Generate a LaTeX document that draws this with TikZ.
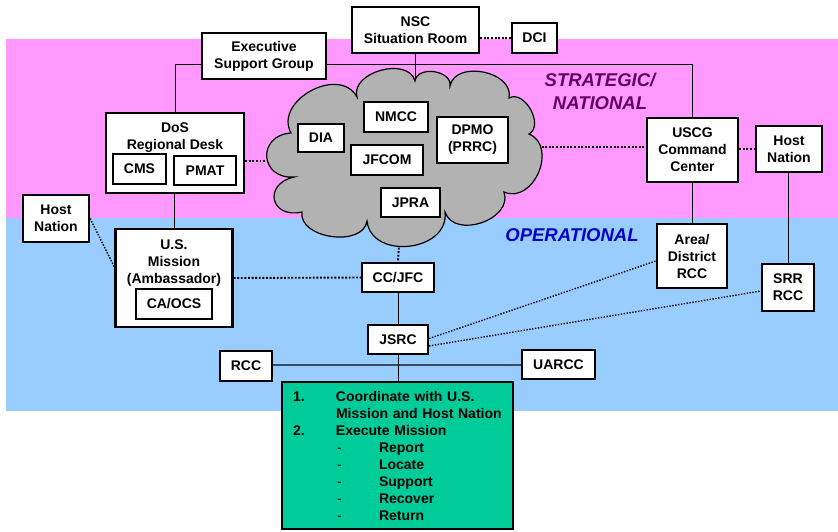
\documentclass[tikz,border=0pt]{standalone}
\usepackage{fontspec}
\setmainfont{Liberation Sans}
\usetikzlibrary{positioning, calc}
\definecolor{stratpink}{HTML}{FF99FF}
\definecolor{opblue}{HTML}{99CCFF}
\definecolor{taskgreen}{HTML}{00CC99}
\definecolor{cloudgray}{HTML}{B2B2B2}
\definecolor{stratpurple}{HTML}{660066}
\definecolor{opdarkblue}{HTML}{0000CC}
\definecolor{slateline}{HTML}{3C4A66}

\begin{document}
\begin{tikzpicture}[x=1pt,y=-1pt,draw=black!100]
	\tikzstyle{org-node}=[draw=black,line width=2.2pt,fill=white,inner sep=0pt,align=center,font=\fontsize{14}{17}\selectfont\bfseries]
	\tikzstyle{txt-node}=[inner sep=0pt,align=center,font=\fontsize{14}{17}\selectfont\bfseries]
	\tikzstyle{lvl-lbl}=[inner sep=0pt,align=center,font=\fontsize{18.5}{23}\selectfont\bfseries\itshape]
	\tikzstyle{solid-link}=[line width=0.9pt]
	\tikzstyle{dot-link}=[line width=1.9pt,dash pattern=on 1.9pt off 1.7pt]
	\tikzstyle{dot-thin}=[line width=1.4pt,dash pattern=on 1.4pt off 1.5pt]
	\useasboundingbox (0,0) rectangle (838,531);

	% levels
	\fill[stratpink] (6,39) rectangle (838,218);
	\fill[opblue] (6,218) rectangle (838,411);
	\node[lvl-lbl,text=stratpurple] (lbl-strat) at (600,91) {STRATEGIC/\\NATIONAL};
	\node[lvl-lbl,text=opdarkblue] (lbl-op) at (572,235) {OPERATIONAL};

	% cloud outline points
	\coordinate (cA) at (291,133);
	\coordinate (cB) at (357,97);
	\coordinate (cC) at (415,81);
	\coordinate (cD) at (450,86);
	\coordinate (cE) at (509,98);
	\coordinate (cF) at (529,134);
	\coordinate (cG) at (504,192);
	\coordinate (cH) at (445,212);
	\coordinate (cI) at (367,221);
	\coordinate (cK) at (302,212);
	\coordinate (cJ) at (294,177);
	\coordinate (cW) at (267,161);
	\coordinate (cR) at (538,147);
	\coordinate (cS) at (399,244);

	% strategic nodes
	\node[org-node,minimum width=127pt,minimum height=46pt] (nsc) at (415.5,30) {NSC\\Situation Room};
	\node[org-node,minimum width=45pt,minimum height=30pt] (dci) at (534.5,38) {DCI};
	\node[org-node,minimum width=124pt,minimum height=46pt] (esg) at (264,56) {Executive\\Support Group};
	\node[org-node,minimum width=138pt,minimum height=80pt] (dos) at (175,153) {};
	\node[txt-node] (dos-txt) at (175,138) {DoS\\Regional Desk};
	\node[org-node,minimum width=53pt,minimum height=30pt] (cms) at (139.5,169) {CMS};
	\node[org-node,minimum width=62pt,minimum height=29pt] (pmat) at (205,170.5) {PMAT};
	\node[org-node,minimum width=91pt,minimum height=64pt] (uscg) at (692.5,150) {USCG\\Command\\Center};
	\node[org-node,minimum width=66pt,minimum height=46pt] (hnr) at (789,149) {Host\\Nation};
	\node[org-node,minimum width=66pt,minimum height=47pt] (hnl) at (56,218.5) {Host\\Nation};

	% operational nodes
	\node[org-node,minimum width=117pt,minimum height=98pt] (usm) at (174,278) {};
	\node[txt-node] (usm-txt) at (174,263) {U.S.\\Mission\\(Ambassador)};
	\node[org-node,minimum width=76pt,minimum height=30pt] (caocs) at (174,304) {CA/OCS};
	\node[org-node,minimum width=72pt,minimum height=29pt] (ccjfc) at (398,277.5) {CC/JFC};
	\node[org-node,minimum width=60pt,minimum height=29pt] (jsrc) at (398,339.5) {JSRC};
	\node[org-node,minimum width=52pt,minimum height=30pt] (rcc) at (246,366) {RCC};
	\node[org-node,minimum width=73pt,minimum height=29pt] (uarcc) at (558.5,364.5) {UARCC};
	\node[org-node,minimum width=70pt,minimum height=64pt] (area) at (692,256) {Area/\\District\\RCC};
	\node[org-node,minimum width=52pt,minimum height=47pt] (srr) at (788,287.5) {SRR\\RCC};

	% links
	\draw[solid-link] ([yshift=-8pt]esg.west) -| (dos.north);
	\draw[solid-link] ([yshift=-8pt]esg.east) -| (uscg.north);
	\draw[solid-link] (nsc.south) -- (nsc.south |- cC);
	\draw[solid-link] (usm.north |- dos.south) -- (usm.north);
	\draw[solid-link] (uscg.south -| area.north) -- (area.north);
	\draw[solid-link] (srr.north |- hnr.south) -- (srr.north);
	\draw[solid-link] (ccjfc.south) -- (jsrc.north);
	\draw[line width=1.2pt,slateline] ($(rcc.east)+(0,-1)$) -- ($(uarcc.west)+(0,0.5)$);
	\path (dci.west) edge[dot-link] (dci.west -| nsc.east)
		($(dos.east)+(0,8)$) edge[dot-link] (cW)
		(cR) edge[dot-link] (cR -| uscg.west)
		(hnr.west -| uscg.east) edge[dot-link] (hnr.west)
		(hnl.east) edge[dot-thin] ($(usm.west)+(0,-11)$)
		(usm.east) edge[dot-link] (ccjfc.west)
		(cS) edge[dot-link] (ccjfc.north)
		($(srr.west)+(0,-11.5)$) edge[dot-link] ($(srr.west)+(0,-11.5)$ -| area.east)
		($(jsrc.east)+(0,-1)$) edge[dot-thin] ($(area.west)+(0,5)$)
		($(jsrc.east)+(0,6.5)$) edge[dot-thin] ($(srr.west)+(0,3.5)$);

	% cloud
	\draw[line width=1.2pt,fill=cloudgray] (cA) to[bend left=90,looseness=1.25] (cB)
		to[bend left=90,looseness=1.1] (cC)
		to[bend left=90,looseness=1.15] (cD)
		to[bend left=90,looseness=1.15] (cE)
		to[bend left=90,looseness=1.1] (cF)
		to[bend left=90,looseness=1.3] (cG)
		to[bend left=90,looseness=1.2] (cH)
		to[bend left=90,looseness=1.3] (cI)
		to[bend left=90,looseness=1.05] (cK)
		to[bend left=90,looseness=2.3] (cJ)
		to[bend left=90,looseness=2.0] (cA) -- cycle;
	\node[org-node,minimum width=46pt,minimum height=28pt] (dia) at (321,138) {DIA};
	\node[org-node,minimum width=64pt,minimum height=30pt] (nmcc) at (396,117) {NMCC};
	\node[org-node,minimum width=72pt,minimum height=30pt] (jfcom) at (387,160) {JFCOM};
	\node[org-node,minimum width=59pt,minimum height=29pt] (jpra) at (410.5,202.5) {JPRA};
	\node[org-node,minimum width=71pt,minimum height=46pt] (dpmo) at (472.5,140) {DPMO\\(PRRC)};

	% tasks
	\draw[solid-link] (jsrc.south) -- (jsrc.south |- 0,382);
	\node[org-node,fill=taskgreen,minimum width=231pt,minimum height=147pt,text width=209pt,align=left] (task) at (397.5,455.5)
		{\makebox[43pt][l]{1.}Coordinate with U.S.\\
		\hspace*{43pt}Mission and Host Nation\\
		\makebox[43pt][l]{2.}Execute Mission\\
		\hspace*{44pt}\makebox[42pt][l]{\mdseries-}Report\\
		\hspace*{44pt}\makebox[42pt][l]{\mdseries-}Locate\\
		\hspace*{44pt}\makebox[42pt][l]{\mdseries-}Support\\
		\hspace*{44pt}\makebox[42pt][l]{\mdseries-}Recover\\
		\hspace*{44pt}\makebox[42pt][l]{\mdseries-}Return};
\end{tikzpicture}
\end{document}
